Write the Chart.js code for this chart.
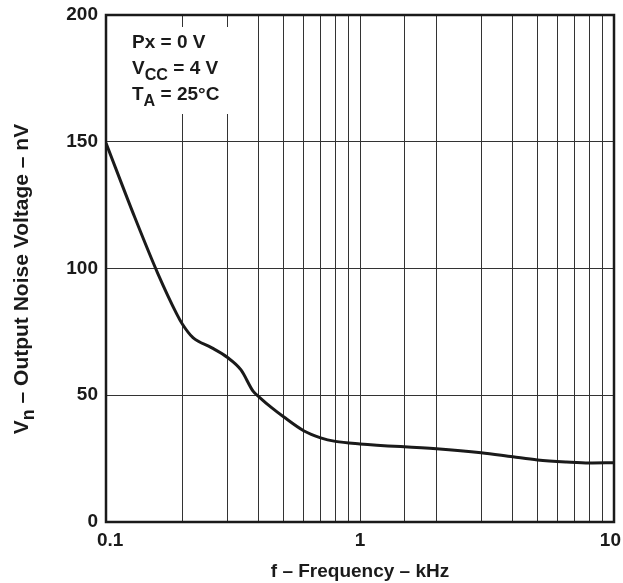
<!DOCTYPE html>
<html>
<head>
<meta charset="utf-8">
<script src="https://cdn.jsdelivr.net/npm/chart.js@4/dist/chart.umd.min.js"></script>
<style>
  html, body { margin: 0; padding: 0; background: #fff; }
</style>
</head>
<body>
<canvas id="noise" width="623" height="583"></canvas>
<script>
// frequency in kHz, output noise voltage in nV
var freq  = [0.1, 0.13, 0.16, 0.19, 0.2, 0.22, 0.26, 0.3, 0.34, 0.38, 0.4, 0.45, 0.5, 0.6, 0.7, 0.8, 1, 2, 3, 4, 5, 6.5, 8, 10];
var noise = [149.5, 120, 98, 82, 78, 72.7, 68.8, 65, 60, 51.5, 49.4, 45, 41.5, 36, 33.2, 31.8, 30.8, 28.9, 27.3, 25.7, 24.5, 23.7, 23.3, 23.4];
var xTickLabels = [0.1, 1, 10];
var yTicks = [0, 50, 100, 150, 200];
var notes = [
    [{t: 'Px = 0 V'}],
    [{t: 'V'}, {t: 'CC', sub: true}, {t: ' = 4 V'}],
    [{t: 'T'}, {t: 'A', sub: true}, {t: ' = 25°C'}]
];
var yTitle = [{t: 'V'}, {t: 'n', sub: true}, {t: ' – Output Noise Voltage – nV'}];
var xTitle = 'f – Frequency – kHz';

var FONT = '"Liberation Sans", Arial, Helvetica, sans-serif';
var INK = '#1a1a1a';

function partsWidth(ctx, parts, size) {
    var w = 0;
    parts.forEach(function (p) {
        ctx.font = 'bold ' + (p.sub ? size * 0.85 : size) + 'px ' + FONT;
        w += ctx.measureText(p.t).width;
    });
    return w;
}

function drawParts(ctx, parts, x, y, size) {
    parts.forEach(function (p) {
        var s = p.sub ? size * 0.85 : size;
        ctx.font = 'bold ' + s + 'px ' + FONT;
        ctx.fillText(p.t, x, y + (p.sub ? 6 : 0));
        x += ctx.measureText(p.t).width;
    });
}

var decorations = {
    id: 'decorations',
    beforeDatasetsDraw: function (chart) {
        var ctx = chart.ctx, a = chart.chartArea;
        ctx.save();
        // white patch behind the conditions text
        ctx.fillStyle = '#fff';
        ctx.fillRect(a.left + 2, 27, 134, 87);
        ctx.restore();
    },
    afterDraw: function (chart) {
        var ctx = chart.ctx, a = chart.chartArea, xs = chart.scales.x;
        ctx.save();
        ctx.strokeStyle = INK;
        ctx.lineWidth = 2.5;
        ctx.strokeRect(a.left, a.top, a.right - a.left, a.bottom - a.top);

        ctx.fillStyle = INK;
        ctx.textBaseline = 'alphabetic';
        ctx.textAlign = 'left';
        var lines = [48, 74, 100];
        notes.forEach(function (n, i) {
            drawParts(ctx, n, 132, lines[i], 19);
        });

        // x tick labels, kept inside the canvas
        ctx.font = 'bold 19px ' + FONT;
        ctx.textAlign = 'center';
        xTickLabels.forEach(function (v) {
            var s = String(v), w = ctx.measureText(s).width;
            var px = xs.getPixelForValue(v);
            px = Math.min(Math.max(px, a.left + w / 2 - 9), chart.width - w / 2 - 2);
            ctx.fillText(s, px, a.bottom + 24);
        });

        // x axis title
        ctx.fillText(xTitle, (a.left + a.right) / 2, 577);

        // y axis title, rotated
        ctx.textAlign = 'left';
        ctx.translate(28, 279);
        ctx.rotate(-Math.PI / 2);
        var w = partsWidth(ctx, yTitle, 21);
        drawParts(ctx, yTitle, -w / 2, 0, 21);
        ctx.restore();
    }
};

var points = freq.map(function (f, i) { return {x: f, y: noise[i]}; });

new Chart(document.getElementById('noise'), {
    type: 'line',
    data: {
        datasets: [{
            data: points,
            borderColor: INK,
            borderWidth: 3,
            pointRadius: 0,
            fill: false,
            cubicInterpolationMode: 'monotone'
        }]
    },
    options: {
        responsive: false,
        animation: false,
        events: [],
        layout: { padding: { top: 15, right: 9, left: 0, bottom: 0 } },
        plugins: { legend: { display: false }, tooltip: { enabled: false } },
        scales: {
            x: {
                type: 'logarithmic',
                min: 0.1,
                max: 10,
                afterFit: function (s) { s.height = 61; s.paddingLeft = 0; s.paddingRight = 0; },
                grid: { color: '#333', lineWidth: 1, drawTicks: false },
                border: { display: false },
                ticks: {
                    autoSkip: false,
                    maxRotation: 0,
                    color: 'rgba(0,0,0,0)',
                    font: { family: FONT, size: 19, weight: 'bold' },
                    callback: function () { return ''; }
                }
            },
            y: {
                min: yTicks[0],
                max: yTicks[yTicks.length - 1],
                afterFit: function (s) { s.width = 106; s.paddingTop = 0; s.paddingBottom = 0; },
                afterBuildTicks: function (s) { s.ticks = yTicks.map(function (v) { return {value: v}; }); },
                grid: { color: '#333', lineWidth: 1, drawTicks: false },
                border: { display: false },
                ticks: {
                    padding: 8,
                    color: INK,
                    font: { family: FONT, size: 19, weight: 'bold' }
                }
            }
        }
    },
    plugins: [decorations]
});
</script>
</body>
</html>
